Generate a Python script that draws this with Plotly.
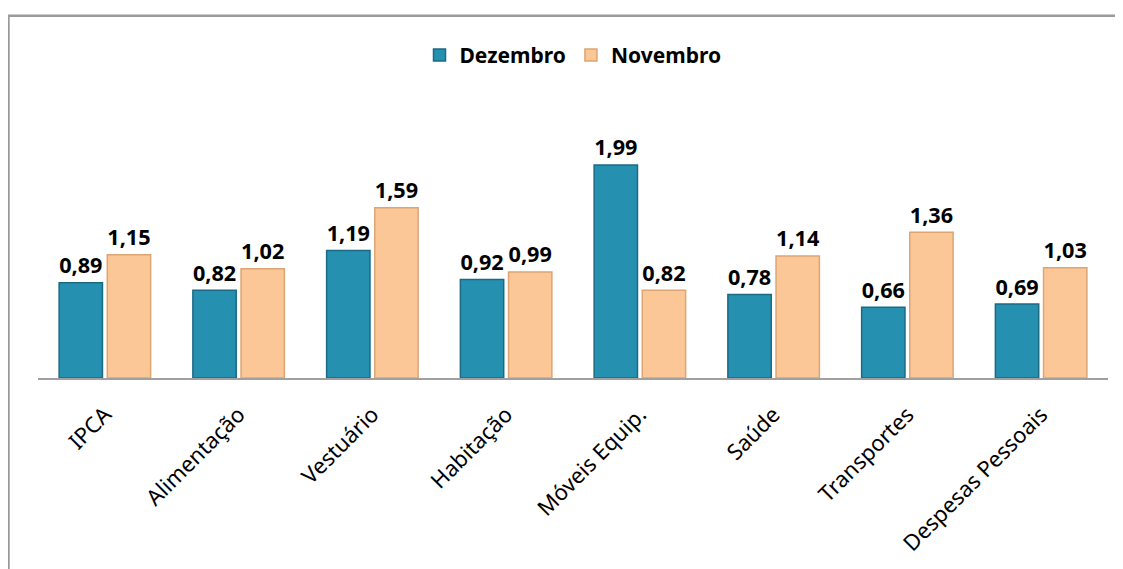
import plotly.graph_objects as go

# categories and values (IPCA variation, %)
categorias = ["IPCA", "Alimentação", "Vestuário", "Habitação", "Móveis Equip.",
              "Saúde", "Transportes", "Despesas Pessoais"]
dezembro = [0.89, 0.82, 1.19, 0.92, 1.99, 0.78, 0.66, 0.69]
novembro = [1.15, 1.02, 1.59, 0.99, 0.82, 1.14, 1.36, 1.03]

label_font = dict(family="Noto Sans", size=23, color="black")

fig = go.Figure()
fig.add_trace(go.Bar(
    name="<b>Dezembro</b>", x=categorias, y=dezembro,
    marker=dict(color="#2690B0", line=dict(color="#1A6A86", width=1.5)),
    texttemplate="<b>%{y:.2f}</b>", textposition="outside", textfont=label_font,
    cliponaxis=False,
))
fig.add_trace(go.Bar(
    name="<b>Novembro</b>", x=categorias, y=novembro,
    marker=dict(color="#FCC796", line=dict(color="#DDA474", width=1.5)),
    texttemplate="<b>%{y:.2f}</b>", textposition="outside", textfont=label_font,
    cliponaxis=False,
))

# outer chart frame (only top and left edges fall inside the picture)
fig.add_shape(type="rect", xref="paper", yref="paper",
              x0=-0.0276, x1=1.03, y0=-0.8, y1=1.41,
              line=dict(color="#9A9A9A", width=2.5), fillcolor="rgba(0,0,0,0)")

# the page body adds an 8px margin, so the figure is sized/offset for that
fig.update_layout(
    width=1115, height=561,
    margin=dict(l=30, r=15, t=113, b=186),
    paper_bgcolor="white", plot_bgcolor="white",
    separators=",.",
    barmode="group", bargap=0.28, bargroupgap=0.1,
    font=dict(family="Noto Sans", color="black"),
    showlegend=True,
    legend=dict(orientation="h", x=0.5, xanchor="center", y=1.255, yanchor="middle",
                font=dict(family="Noto Sans", size=21, color="black"),
                itemwidth=30, traceorder="normal"),
    xaxis=dict(tickangle=-45, tickfont=dict(family="Noto Sans", size=22, color="black"),
               ticklabelstandoff=13,
               showline=True, linecolor="#A0A0A0", linewidth=2, ticks="", showgrid=False),
    yaxis=dict(range=[0, 2.4], visible=False, showgrid=False, zeroline=False),
)

fig.write_html("out.html")
